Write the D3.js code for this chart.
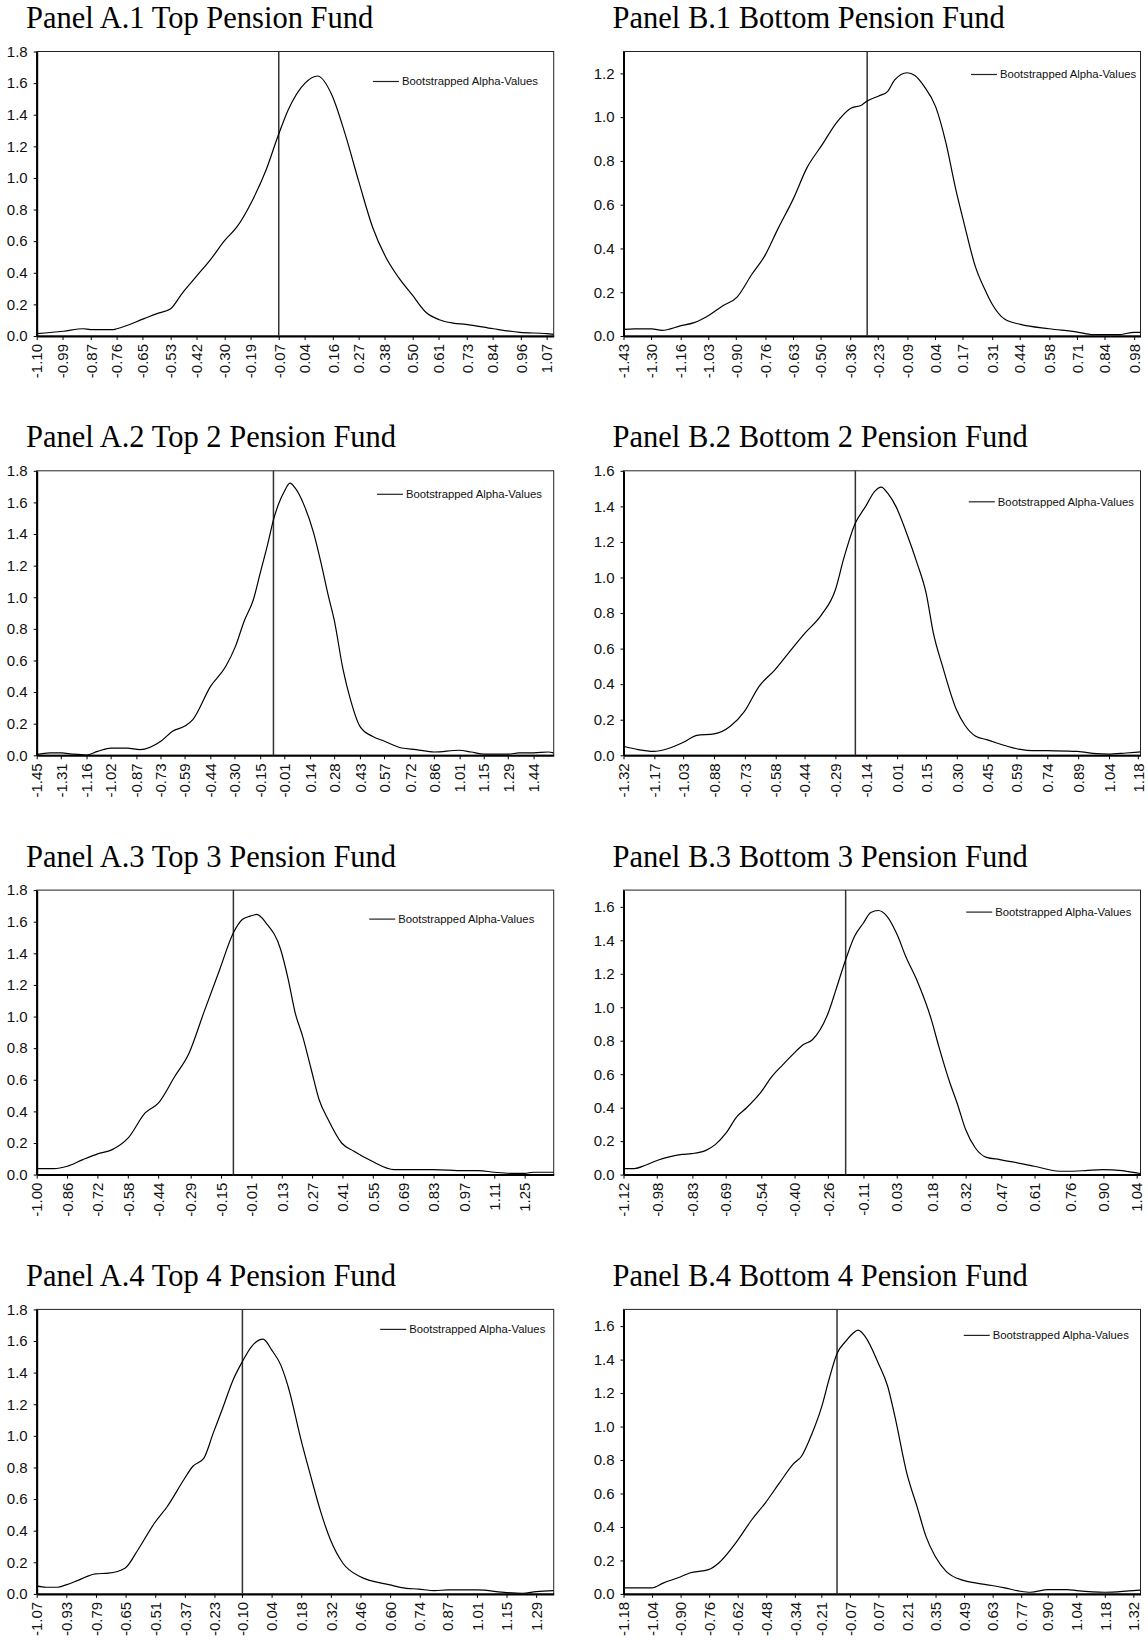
<!DOCTYPE html>
<html>
<head>
<meta charset="utf-8">
<script src="https://cdn.jsdelivr.net/npm/d3@7"></script>
<style>
  body { margin: 0; background: #fff; }
  svg { display: block; }
  .tick text { font-family: "Liberation Sans", Arial, sans-serif; font-size: 15px; fill: #111; }
  .title { font-family: "Liberation Serif", "Times New Roman", serif; font-size: 30.5px; fill: #000; }
  .legend text { font-family: "Liberation Sans", Arial, sans-serif; font-size: 11.3px; fill: #111; }
</style>
</head>
<body>
<svg id="fig" width="1148" height="1640"></svg>
<script>
// ---- data (alpha value, density) ----
const a1Ticks = [-1.10,-0.99,-0.87,-0.76,-0.65,-0.53,-0.42,-0.30,-0.19,-0.07,0.04,0.16,0.27,0.38,0.50,0.61,0.73,0.84,0.96,1.07];
const a1X = [-1.10,-0.986,-0.902,-0.871,-0.778,-0.759,-0.643,-0.591,-0.530,-0.481,-0.416,-0.357,-0.299,-0.248,-0.185,-0.124,-0.072,-0.030,0.042,0.095,0.156,0.212,0.271,0.329,0.385,0.438,0.499,0.555,0.613,0.671,0.727,0.843,0.956,1.070,1.10];
const a1Y = [0.015,0.03,0.046,0.04,0.04,0.046,0.11,0.14,0.173,0.27,0.385,0.49,0.606,0.69,0.85,1.05,1.27,1.43,1.60,1.645,1.525,1.28,0.975,0.69,0.50,0.374,0.258,0.152,0.103,0.082,0.074,0.046,0.023,0.015,0.01];

const b1Ticks = [-1.43,-1.30,-1.16,-1.03,-0.90,-0.76,-0.63,-0.50,-0.36,-0.23,-0.09,0.04,0.17,0.31,0.44,0.58,0.71,0.84,0.98];
const b1X = [-1.43,-1.378,-1.296,-1.248,-1.162,-1.097,-1.028,-0.963,-0.894,-0.825,-0.760,-0.703,-0.627,-0.565,-0.493,-0.427,-0.359,-0.305,-0.280,-0.225,-0.184,-0.150,-0.091,-0.055,-0.012,0.043,0.092,0.135,0.177,0.230,0.283,0.311,0.370,0.444,0.579,0.712,0.785,0.846,0.905,0.98,1.01];
const b1Y = [0.03,0.033,0.033,0.026,0.046,0.061,0.094,0.137,0.178,0.281,0.372,0.486,0.63,0.767,0.873,0.972,1.04,1.056,1.074,1.097,1.117,1.17,1.203,1.19,1.142,1.048,0.881,0.684,0.516,0.319,0.197,0.144,0.076,0.053,0.033,0.018,0.006,0.006,0.006,0.017,0.017];

const a2Ticks = [-1.45,-1.31,-1.16,-1.02,-0.87,-0.73,-0.59,-0.44,-0.30,-0.15,-0.01,0.14,0.28,0.43,0.57,0.72,0.86,1.01,1.15,1.29,1.44];
const a2X = [-1.45,-1.373,-1.305,-1.245,-1.161,-1.096,-1.017,-0.925,-0.849,-0.728,-0.660,-0.583,-0.542,-0.439,-0.350,-0.294,-0.244,-0.190,-0.150,-0.105,-0.073,-0.041,-0.010,0.023,0.054,0.108,0.161,0.204,0.247,0.280,0.332,0.375,0.430,0.502,0.573,0.673,0.758,0.862,1.007,1.077,1.151,1.296,1.355,1.44,1.525,1.557];
const a2Y = [0.004,0.015,0.015,0.008,0.002,0.025,0.046,0.046,0.036,0.089,0.152,0.188,0.226,0.436,0.563,0.689,0.847,0.984,1.153,1.343,1.49,1.596,1.669,1.722,1.69,1.575,1.406,1.216,1.005,0.858,0.542,0.352,0.183,0.12,0.089,0.046,0.036,0.021,0.032,0.021,0.008,0.008,0.015,0.015,0.021,0.015];

const b2Ticks = [-1.32,-1.17,-1.03,-0.88,-0.73,-0.58,-0.44,-0.29,-0.14,0.01,0.15,0.30,0.45,0.59,0.74,0.89,1.04,1.18];
const b2X = [-1.32,-1.249,-1.173,-1.106,-1.026,-0.964,-0.879,-0.801,-0.732,-0.661,-0.584,-0.518,-0.437,-0.357,-0.290,-0.251,-0.193,-0.143,-0.099,-0.067,-0.036,0.004,0.053,0.107,0.151,0.186,0.231,0.298,0.338,0.392,0.445,0.592,0.641,0.739,0.886,0.980,1.034,1.123,1.193];
const b2Y = [0.051,0.032,0.022,0.037,0.075,0.112,0.12,0.163,0.247,0.388,0.481,0.575,0.688,0.791,0.931,1.10,1.306,1.40,1.484,1.508,1.474,1.40,1.259,1.081,0.912,0.688,0.50,0.257,0.172,0.107,0.088,0.037,0.028,0.026,0.022,0.009,0.007,0.013,0.019];

const a3Ticks = [-1.00,-0.86,-0.72,-0.58,-0.44,-0.29,-0.15,-0.01,0.13,0.27,0.41,0.55,0.69,0.83,0.97,1.11,1.25];
const a3X = [-1.00,-0.922,-0.859,-0.787,-0.719,-0.652,-0.578,-0.500,-0.438,-0.363,-0.297,-0.230,-0.156,-0.093,-0.052,-0.016,0.015,0.057,0.125,0.159,0.192,0.226,0.266,0.302,0.344,0.406,0.463,0.547,0.648,0.687,0.766,0.828,0.969,1.037,1.109,1.189,1.25,1.290,1.384];
const a3Y = [0.038,0.038,0.053,0.095,0.131,0.158,0.232,0.39,0.454,0.622,0.77,1.023,1.298,1.53,1.614,1.635,1.646,1.593,1.424,1.24,1.023,0.876,0.665,0.475,0.348,0.20,0.148,0.084,0.032,0.032,0.032,0.032,0.025,0.025,0.015,0.008,0.008,0.015,0.015];

const b3Ticks = [-1.12,-0.98,-0.83,-0.69,-0.54,-0.40,-0.26,-0.11,0.03,0.18,0.32,0.47,0.61,0.76,0.90,1.04];
const b3X = [-1.12,-1.074,-1.028,-0.976,-0.919,-0.873,-0.834,-0.773,-0.734,-0.688,-0.642,-0.603,-0.544,-0.495,-0.449,-0.402,-0.364,-0.325,-0.256,-0.226,-0.185,-0.148,-0.111,-0.079,-0.048,-0.010,0.032,0.068,0.114,0.176,0.207,0.254,0.284,0.32,0.361,0.408,0.464,0.609,0.716,0.747,0.824,0.896,0.978,1.04,1.056];
const b3Y = [0.036,0.036,0.056,0.086,0.109,0.121,0.125,0.145,0.179,0.249,0.348,0.398,0.488,0.587,0.657,0.726,0.776,0.806,0.975,1.104,1.284,1.423,1.502,1.566,1.578,1.542,1.433,1.303,1.164,0.925,0.766,0.547,0.428,0.269,0.159,0.103,0.09,0.05,0.02,0.02,0.024,0.03,0.024,0.01,0.006];

const a4Ticks = [-1.07,-0.93,-0.79,-0.65,-0.51,-0.37,-0.23,-0.10,0.04,0.18,0.32,0.46,0.60,0.74,0.87,1.01,1.15,1.29];
const a4X = [-1.07,-1.025,-0.973,-0.931,-0.869,-0.792,-0.731,-0.653,-0.592,-0.514,-0.453,-0.375,-0.333,-0.280,-0.236,-0.194,-0.142,-0.098,-0.055,0.0,0.040,0.083,0.118,0.179,0.221,0.274,0.318,0.377,0.457,0.600,0.654,0.735,0.810,0.873,1.012,1.151,1.226,1.29,1.373];
const a4Y = [0.051,0.042,0.042,0.057,0.089,0.127,0.131,0.162,0.278,0.447,0.553,0.722,0.806,0.859,1.017,1.165,1.354,1.47,1.565,1.612,1.544,1.449,1.312,0.975,0.764,0.511,0.342,0.194,0.11,0.057,0.04,0.03,0.021,0.025,0.025,0.008,0.004,0.015,0.021];

const b4Ticks = [-1.18,-1.04,-0.90,-0.76,-0.62,-0.48,-0.34,-0.21,-0.07,0.07,0.21,0.35,0.49,0.63,0.77,0.90,1.04,1.18,1.32];
const b4X = [-1.18,-1.041,-0.983,-0.902,-0.856,-0.763,-0.713,-0.624,-0.551,-0.485,-0.416,-0.347,-0.308,-0.255,-0.208,-0.173,-0.133,-0.092,-0.056,-0.030,0.006,0.07,0.116,0.151,0.209,0.259,0.303,0.348,0.402,0.486,0.545,0.627,0.689,0.765,0.815,0.903,0.995,1.042,1.18,1.32,1.355];
const b4Y = [0.036,0.036,0.066,0.101,0.125,0.145,0.185,0.314,0.443,0.543,0.662,0.777,0.821,0.960,1.119,1.278,1.437,1.507,1.556,1.576,1.536,1.377,1.238,1.059,0.722,0.523,0.344,0.225,0.135,0.081,0.066,0.05,0.036,0.016,0.01,0.026,0.026,0.02,0.01,0.02,0.022];

const titles = ["Panel A.1 Top Pension Fund", "Panel B.1 Bottom Pension Fund",
                "Panel A.2 Top 2 Pension Fund", "Panel B.2 Bottom 2 Pension Fund",
                "Panel A.3 Top 3 Pension Fund", "Panel B.3 Bottom 3 Pension Fund",
                "Panel A.4 Top 4 Pension Fund", "Panel B.4 Bottom 4 Pension Fund"];
const fundAlpha = [-0.07, -0.28, -0.073, -0.193, -0.093, -0.185, -0.098, -0.133];
const xMax = [1.10, 1.01, 1.557, 1.193, 1.384, 1.056, 1.373, 1.355];
const yMax = [1.8, 1.3, 1.8, 1.6, 1.8, 1.7, 1.8, 1.7];
const yTickTop = [1.8, 1.2, 1.8, 1.6, 1.8, 1.6, 1.8, 1.6];
const legendLabel = "Bootstrapped Alpha-Values";

const panels = [
    {ticks: a1Ticks, x: a1X, y: a1Y}, {ticks: b1Ticks, x: b1X, y: b1Y},
    {ticks: a2Ticks, x: a2X, y: a2Y}, {ticks: b2Ticks, x: b2X, y: b2Y},
    {ticks: a3Ticks, x: a3X, y: a3Y}, {ticks: b3Ticks, x: b3X, y: b3Y},
    {ticks: a4Ticks, x: a4X, y: a4Y}, {ticks: b4Ticks, x: b4X, y: b4Y}
];

// layout
const colLeft = [36.7, 623.5];
const titleLeft = [26, 612.5];
const rowTop = [51.5, 470.8, 890.1, 1309.4];
const plotW = 517, plotH = 284.5;
// legend placement inside each panel: [offset from top, gap to right border]
const legendPos = [[30, 15.7], [23, 4.4], [23.5, 11.7], [31, 6.6], [29, 19.4], [22, 9.2], [20, 8.4], [26, 11.7]];

const svg = d3.select("#fig");
svg.append("rect").attr("width", 1148).attr("height", 1640).attr("fill", "#fff");

panels.forEach((p, i) => drawPanel(p, i));

function drawPanel(p, i){
    const col = i % 2, row = Math.floor(i / 2);
    const left = colLeft[col], top = rowTop[row];

    svg.append("text")
        .attr("class", "title")
        .attr("x", titleLeft[col])
        .attr("y", top - 23.5)
        .text(titles[i]);

    const g = svg.append("g").attr("transform", `translate(${left},${top})`);

    const xScale = d3.scaleLinear().domain([p.ticks[0], xMax[i]]).range([0, plotW]);
    const yScale = d3.scaleLinear().domain([0, yMax[i]]).range([plotH, 0]);

    const clipId = "clip" + i;
    g.append("clipPath").attr("id", clipId)
        .append("rect").attr("width", plotW).attr("height", plotH);

    // frame
    g.append("rect")
        .attr("width", plotW).attr("height", plotH)
        .attr("fill", "none").attr("stroke", "#222").attr("stroke-width", 1);

    // axes
    const yTicks = d3.range(0, Math.round(yTickTop[i] * 5) + 1).map(k => k / 5);
    const yAxis = g.append("g")
        .call(d3.axisLeft(yScale).tickValues(yTicks).tickSize(3).tickSizeOuter(0).tickPadding(6)
            .tickFormat(d => d.toFixed(1)));
    yAxis.select(".domain").attr("stroke", "#000").attr("stroke-width", 2);

    const xAxis = g.append("g")
        .attr("transform", `translate(0,${plotH})`)
        .call(d3.axisBottom(xScale).tickValues(p.ticks).tickSize(4).tickSizeOuter(0)
            .tickFormat(d => d.toFixed(2)));
    xAxis.select(".domain").attr("stroke", "#000").attr("stroke-width", 2);
    xAxis.selectAll(".tick text")
        .attr("transform", "rotate(-90)")
        .attr("text-anchor", "end")
        .attr("x", -8)
        .attr("y", 0)
        .attr("dy", "0.35em");

    // the fund's own alpha
    g.append("line")
        .attr("x1", xScale(fundAlpha[i])).attr("x2", xScale(fundAlpha[i]))
        .attr("y1", 0).attr("y2", plotH)
        .attr("stroke", "#333").attr("stroke-width", 1.5);

    const pts = p.x.map((v, k) => [v, p.y[k]]);
    g.append("path")
        .datum(pts)
        .attr("clip-path", `url(#${clipId})`)
        .attr("fill", "none")
        .attr("stroke", "#000")
        .attr("stroke-width", 1.2)
        .attr("d", d3.line()
            .x(d => xScale(d[0]))
            .y(d => yScale(d[1]))
            .curve(d3.curveMonotoneX));

    // legend
    const lg = g.append("g").attr("class", "legend")
        .attr("transform", `translate(${plotW - legendPos[i][1]},${legendPos[i][0]})`);
    const lt = lg.append("text")
        .attr("text-anchor", "end")
        .attr("dy", "0.35em")
        .text(legendLabel);
    const tw = lt.node().getComputedTextLength();
    lg.append("line")
        .attr("x1", -tw - 29).attr("x2", -tw - 3)
        .attr("y1", 0).attr("y2", 0)
        .attr("stroke", "#222").attr("stroke-width", 1.2);
}
</script>
</body>
</html>
